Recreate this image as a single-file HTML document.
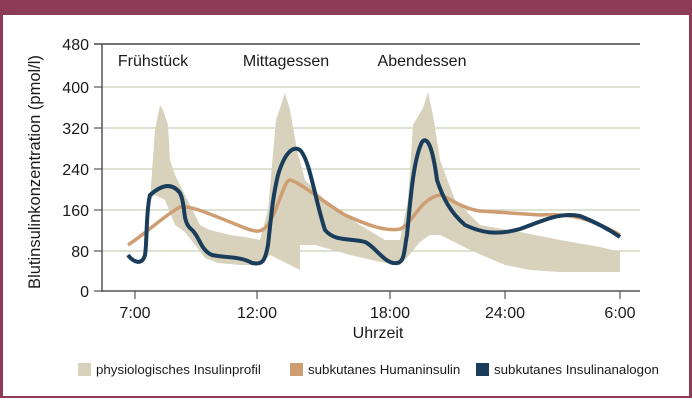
<!DOCTYPE html>
<html><head><meta charset="utf-8"><style>
html,body{margin:0;padding:0;background:#fff}
svg{display:block;font-family:"Liberation Sans",sans-serif}
</style></head><body>
<svg width="692" height="405" viewBox="0 0 692 405">
<rect x="0" y="0" width="692" height="398" fill="#8e3b58"/>
<rect x="3" y="15" width="686" height="381" fill="#fff"/>
<g stroke="#c8d2b8" stroke-width="1.2">
<line x1="102" y1="87" x2="640" y2="87"/><line x1="102" y1="128" x2="640" y2="128"/>
<line x1="102" y1="169" x2="640" y2="169"/><line x1="102" y1="210" x2="640" y2="210"/>
<line x1="102" y1="251" x2="640" y2="251"/>
</g>
<line x1="94" y1="44" x2="640" y2="44" stroke="#222" stroke-width="1.2"/>
<g fill="#d8d2bd">
<path d="M150,200 L155,130 L160,105 L163,110 L168,125 L170,160 L175,175 L185,195 L200,225 L210,230 L230,235 L245,237 L260,240 L268,210 L276,120 L285,93 L290,110 L297,150 L305,180 L330,205 L360,225 L385,240 L400,240 L408,200 L413,125 L423,108 L428,92 L433,115 L440,160 L455,200 L480,225 L520,232 L560,240 L600,247 L620,252 L620,272 L560,272 L530,270 L505,265 L470,250 L440,235 L430,235 L420,242 L405,260 L400,265 L380,262 L350,255 L315,245 L300,245 L300,270 L290,265 L280,260 L270,255 L260,265 L240,265 L218,263 L205,258 L195,245 L185,232 L175,225 L165,200 L155,195 Z"/>
</g>
<path fill="none" stroke="#cf9d72" stroke-width="3.5" stroke-linejoin="round" d="M128,245 C145,234 165,215 180,207 C190,205 210,214 245,228 C258,233 262,232 268,225 C278,210 284,180 290,180 C300,182 320,200 345,215 C365,224 385,232 400,229 C412,225 420,198 440,195 C450,198 460,208 480,211 L540,215 C570,213 590,218 620,235"/>
<path fill="none" stroke="#1a3d5c" stroke-width="4" stroke-linejoin="round" d="M128,255 C133,262 142,266 145,255 C147,245 146,210 150,195 C158,188 170,180 180,193 C186,205 182,220 190,228 C200,236 200,250 212,255 C225,258 240,256 252,263 C262,265 265,262 268,245 C271,220 272,200 278,175 C284,155 292,145 300,150 C310,160 315,200 325,230 C335,242 350,238 365,242 C375,246 385,265 397,263 C405,262 404,250 407,235 C410,205 413,160 422,142 C428,135 433,150 437,180 C443,198 450,212 465,225 C480,232 495,236 520,229 C545,220 560,212 580,216 C595,222 610,230 620,237"/>
<line x1="102" y1="44" x2="102" y2="292" stroke="#555" stroke-width="1.5"/>
<line x1="102" y1="291" x2="640" y2="291" stroke="#555" stroke-width="1.5"/>
<g stroke="#555" stroke-width="1.2">
<line x1="94" y1="87" x2="102" y2="87"/><line x1="94" y1="128" x2="102" y2="128"/><line x1="94" y1="169" x2="102" y2="169"/><line x1="94" y1="210" x2="102" y2="210"/><line x1="94" y1="251" x2="102" y2="251"/><line x1="94" y1="291" x2="102" y2="291"/>
<line x1="135" y1="291" x2="135" y2="299"/><line x1="257" y1="291" x2="257" y2="299"/><line x1="390" y1="291" x2="390" y2="299"/><line x1="505" y1="291" x2="505" y2="299"/><line x1="620" y1="291" x2="620" y2="299"/>
</g>
<g font-size="16" fill="#1a1a1a" text-anchor="end">
<text x="89" y="50">480</text><text x="89" y="93">400</text><text x="89" y="134">320</text><text x="89" y="175">240</text><text x="89" y="216">160</text><text x="89" y="257">80</text><text x="89" y="297">0</text>
</g>
<g font-size="16" fill="#1a1a1a" text-anchor="middle">
<text x="135" y="318">7:00</text><text x="257" y="318">12:00</text><text x="390" y="318">18:00</text><text x="505" y="318">24:00</text><text x="620" y="318">6:00</text>
<text x="378" y="338">Uhrzeit</text>
<text x="153" y="66">Frühstück</text><text x="286" y="66">Mittagessen</text><text x="422" y="66">Abendessen</text>
<text transform="translate(40,172) rotate(-90)" font-size="16.5">Blutinsulinkonzentration (pmol/l)</text>
</g>
<g font-size="13.3" fill="#1a1a1a">
<rect x="78" y="363" width="13" height="13" fill="#d8d2bd"/><text x="96" y="374">physiologisches Insulinprofil</text>
<rect x="290" y="363" width="13" height="13" fill="#cf9d72"/><text x="308" y="374">subkutanes Humaninsulin</text>
<rect x="476" y="363" width="13" height="13" fill="#1a3d5c"/><text x="494" y="374">subkutanes Insulinanalogon</text>
</g>
</svg>
</body></html>
